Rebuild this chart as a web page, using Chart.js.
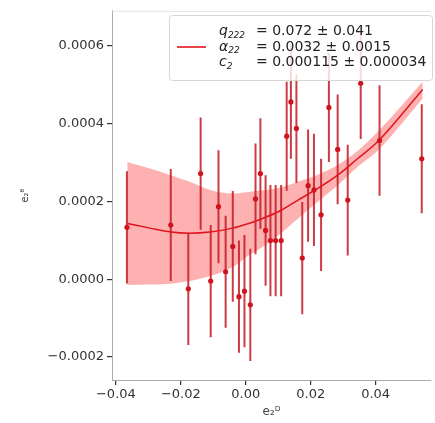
<!DOCTYPE html>
<html>
<head>
<meta charset="UTF-8">
<title>e2 fit</title>
<script src="https://cdn.jsdelivr.net/npm/chart.js"></script>
<style>
    body { margin: 0; background: #fff; }
    #wrap { width: 435px; height: 423px; }
</style>
</head>
<body>
<div id="wrap"><canvas id="chartE2" width="435" height="423"></canvas></div>
<script>
// measured points
const xVals = [-0.0366, -0.0231, -0.0177, -0.0139, -0.0108, -0.0084, -0.0062, -0.0040, -0.0021, -0.0004,
               0.0014, 0.0030, 0.0045, 0.0061, 0.0076, 0.0092, 0.0109, 0.0126, 0.0139, 0.0156,
               0.0174, 0.0192, 0.0210, 0.0232, 0.0256, 0.0283, 0.0314, 0.0354, 0.0412, 0.0542];
const yVals = [0.000133, 0.000139, -0.000025, 0.000271, -0.000005, 0.000186, 0.000019, 0.000084, -0.000045, -0.000031,
               -0.000066, 0.000206, 0.000271, 0.000125, 0.000099, 0.000099, 0.000099, 0.000367, 0.000455, 0.000387,
               0.000054, 0.000240, 0.000229, 0.000165, 0.000441, 0.000333, 0.000203, 0.000503, 0.000356, 0.000309];
const yErr  = [0.000144, 0.000144, 0.000144, 0.000144, 0.000144, 0.000145, 0.000144, 0.000142, 0.000144, 0.000144,
               0.000144, 0.000142, 0.000142, 0.000142, 0.000143, 0.000143, 0.000143, 0.000140, 0.000146, 0.000140,
               0.000144, 0.000144, 0.000144, 0.000144, 0.000140, 0.000141, 0.000142, 0.000143, 0.000142, 0.000140];

// fit curve and its band
const fitX     = [-0.0365, -0.0295, -0.0231, -0.0173, -0.0110, -0.0040, 0.0009, 0.0040, 0.0100, 0.0161,
                  0.0222, 0.0283, 0.0344, 0.0405, 0.0545];
const fitY     = [0.000143, 0.000131, 0.000121, 0.000118, 0.000121, 0.000131, 0.000143, 0.000152, 0.000173, 0.000203,
                  0.000233, 0.000267, 0.000309, 0.000352, 0.000487];
const bandHigh = [0.000301, 0.000284, 0.000267, 0.000250, 0.000229, 0.000220, 0.000224, 0.000227, 0.000234, 0.000250,
                  0.000268, 0.000293, 0.000329, 0.000377, 0.000507];
const bandLow  = [-0.000015, -0.000014, -0.000012, -0.000005, 0.000008, 0.000031, 0.000061, 0.000076, 0.000112, 0.000156,
                  0.000199, 0.000241, 0.000288, 0.000329, 0.000464];

const xTicks = [-0.04, -0.02, 0.00, 0.02, 0.04];
const yTicks = [-0.0002, 0.0000, 0.0002, 0.0004, 0.0006];

const legendSym  = ['q', 'α', 'c'];
const legendSub  = ['222', '22', '2'];
const legendText = ['= 0.072 ± 0.041', '= 0.0032 ± 0.0015', '= 0.000115 ± 0.000034'];

const RED = '#e3141e';

function pts(xs, ys) {
    return xs.map((x, i) => ({x: x, y: ys[i]}));
}

const errData = [];
xVals.forEach((x, i) => {
    errData.push({x: x, y: yVals[i] - yErr[i]});
    errData.push({x: x, y: yVals[i] + yErr[i]});
    errData.push({x: x, y: null});
});

function minus(s) { return s.replace('-', '\u2212'); }

// legend box drawn on top, like matplotlib's
const legendBox = {
    id: 'legendBox',
    afterDraw(chart) {
        const ctx = chart.ctx;
        const a = chart.chartArea;
        ctx.save();
        // faint top frame
        ctx.strokeStyle = '#e4e4e4';
        ctx.lineWidth = 1;
        ctx.beginPath();
        ctx.moveTo(a.left, a.top + 0.5);
        ctx.lineTo(a.right, a.top + 0.5);
        ctx.stroke();

        const bx = 169, by = 15, bw = 263, bh = 65;
        ctx.fillStyle = 'rgba(255,255,255,0.82)';
        ctx.strokeStyle = '#d6d6d6';
        ctx.beginPath();
        ctx.roundRect(bx + 0.5, by + 0.5, bw, bh, 3);
        ctx.fill();
        ctx.stroke();

        ctx.strokeStyle = RED;
        ctx.lineWidth = 1.6;
        ctx.beginPath();
        ctx.moveTo(177, 47);
        ctx.lineTo(206, 47);
        ctx.stroke();

        ctx.fillStyle = '#222';
        ctx.textBaseline = 'middle';
        for (let i = 0; i < legendSym.length; i++) {
            const y = 31.5 + i * 15.5;
            ctx.font = 'italic 14px "DejaVu Sans"';
            ctx.fillText(legendSym[i], 219, y);
            const w = ctx.measureText(legendSym[i]).width;
            ctx.font = 'italic 9px "DejaVu Sans"';
            ctx.fillText(legendSub[i], 219 + w, y + 4);
            ctx.font = '14px "DejaVu Sans"';
            ctx.fillText(legendText[i], 256, y);
        }
        ctx.restore();
    }
};

new Chart(document.getElementById('chartE2'), {
    type: 'line',
    data: {
        datasets: [
            {
                data: pts(fitX, bandHigh),
                borderWidth: 0,
                pointRadius: 0,
                fill: '+1',
                backgroundColor: 'rgba(250,70,70,0.42)',
                tension: 0.35,
                cubicInterpolationMode: 'monotone',
                order: 5
            },
            {
                data: pts(fitX, bandLow),
                borderWidth: 0,
                pointRadius: 0,
                fill: false,
                tension: 0.35,
                cubicInterpolationMode: 'monotone',
                order: 5
            },
            {
                data: errData,
                borderColor: 'rgba(195,25,35,0.85)',
                borderWidth: 2,
                pointRadius: 0,
                spanGaps: false,
                fill: false,
                order: 3
            },
            {
                data: pts(fitX, fitY),
                borderColor: RED,
                borderWidth: 1.5,
                pointRadius: 0,
                fill: false,
                cubicInterpolationMode: 'monotone',
                order: 2
            },
            {
                data: pts(xVals, yVals),
                showLine: false,
                pointRadius: 2.6,
                pointBackgroundColor: '#d0141e',
                pointBorderWidth: 0,
                order: 1
            }
        ]
    },
    options: {
        responsive: false,
        animation: false,
        layout: { padding: { top: 8, right: 0, left: 0, bottom: 0 } },
        plugins: {
            legend: { display: false },
            tooltip: { enabled: false }
        },
        scales: {
            x: {
                type: 'linear',
                min: -0.0412,
                max: 0.05705,
                afterFit: s => { s.height = 43; },
                afterBuildTicks: s => { s.ticks = xTicks.map(v => ({value: v})); },
                grid: { drawOnChartArea: false, drawTicks: true, tickLength: 5, color: '#333', lineWidth: 1.2 },
                border: { color: '#aaa', width: 1 },
                ticks: {
                    color: '#333',
                    font: { family: 'DejaVu Sans', size: 13 },
                    padding: 2,
                    maxRotation: 0,
                    callback: v => minus(v.toFixed(2))
                },
                title: {
                    display: true,
                    text: 'e₂ᴰ',
                    color: '#444',
                    font: { family: 'DejaVu Sans', size: 12 },
                    padding: { top: 0, bottom: 4 }
                }
            },
            y: {
                type: 'linear',
                min: -0.000259,
                max: 0.000689,
                afterFit: s => { s.width = 112; },
                afterBuildTicks: s => { s.ticks = yTicks.map(v => ({value: v})); },
                grid: { drawOnChartArea: false, drawTicks: true, tickLength: 5, color: '#333', lineWidth: 1.2 },
                border: { color: '#aaa', width: 1 },
                ticks: {
                    color: '#333',
                    font: { family: 'DejaVu Sans', size: 13 },
                    padding: 3,
                    callback: v => minus(v.toFixed(4))
                },
                title: {
                    display: true,
                    text: 'e₂ᶿ',
                    color: '#444',
                    font: { family: 'DejaVu Sans', size: 10 },
                    padding: { top: 19, bottom: 0 }
                }
            }
        }
    },
    plugins: [legendBox]
});
</script>
</body>
</html>
